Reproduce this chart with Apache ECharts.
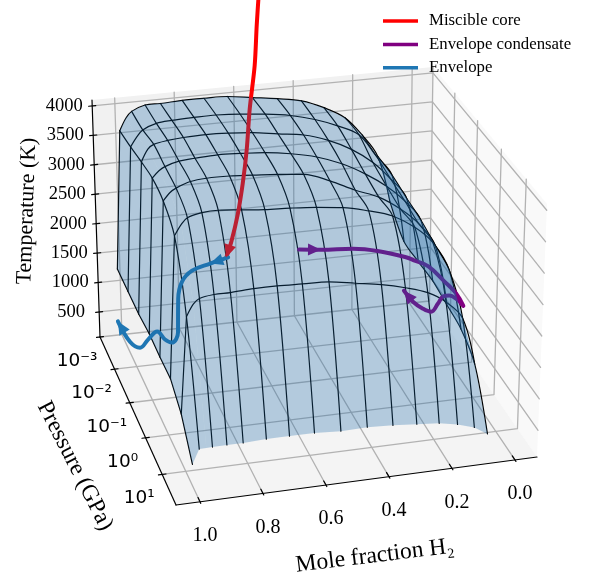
<!DOCTYPE html>
<html><head><meta charset="utf-8">
<style>html,body{margin:0;padding:0;background:#fff}#c{width:589px;height:577px}</style>
<script src="https://cdn.jsdelivr.net/npm/echarts@6/dist/echarts.min.js"></script>
</head><body><div id="c"></div>
<script>
// ---------- data ----------
const moleFraction = [1.0086,0.9862,0.9640,0.9444,0.8986,0.8470,0.7736,0.7003,0.6212,0.5375,0.4539,0.3725,0.2968,0.2258,0.1673,0.1135,0.0711];
const meshColumns  = [0,1,3,4,5,6,7,8,9,10,11,12,13,14,15,16];
const logPressure = [-3,-2.29,-1.6,-0.93,-0.28,0.35,0.96,1.56];
const temperature = [
 [1193,3532,3739,3842,3928,3928,3945,3945,3936,3876,3816,3739,3584,3377,3051,2655,1864],
 [1183,3604,3766,3869,3956,3979,3991,3995,3971,3925,3860,3751,3604,3417,3025,2667,1524],
 [1174,3692,3894,3962,4004,4026,4036,4021,3986,3921,3859,3725,3534,3276,2972,2620,1528],
 [1209,3760,3869,3927,3991,4011,4028,4010,3981,3916,3817,3660,3450,3201,2931,2581,1549],
 [1187,3717,3843,3903,3984,4009,4004,3976,3946,3896,3744,3544,3387,3146,2875,2495,1486],
 [1190,3480,3653,3748,3803,3812,3775,3737,3714,3678,3625,3523,3396,3171,2886,2409,1424],
 [972,2512,2699,2778,2813,2813,2830,2830,2813,2794,2722,2650,2553,2430,2243,1950,1183],
 [527,753,756,758,761,760,774,774,771,747,755,732,700,669,613,529,398]
];
const coreX = [0.6366,0.6443,0.652,0.669,0.680,0.694,0.7115,0.7324,0.7505];
const coreT = [6654,6105,5435,4732,4062,3509,3006,2588,2320];
const coreLogP = -0.93;
const envX = [0.667,0.728,0.790,0.825,0.839,0.841,0.842,0.864,0.887,0.913,0.945,0.973,1.007,1.046];
const envT = [1574,1504,1417,1248,967,626,406,246,310,460,341,220,339,702];
const envLogP = -2.29;
const condX = [0.553,0.482,0.379,0.295,0.207,0.181,0.135,0.081,0.041,0.017,0.041,0.064,0.084,0.100,0.122,0.149,0.182,0.212];
const condT = [2676,2631,2588,2499,2349,2283,2160,1878,1652,1436,1569,1635,1630,1524,1403,1469,1602,1801];
const condLogP = -0.28;
const xTicks = [1.0,0.8,0.6,0.4,0.2,0.0];
const xTickLabels = ['1.0','0.8','0.6','0.4','0.2','0.0'];
const pTicks = [-3,-2,-1,0,1];
const pTickLabels = ['10\u207B\u00B3','10\u207B\u00B2','10\u207B\u00B9','10\u2070','10\u00B9'];
const zTicks = [500,1000,1500,2000,2500,3000,3500,4000];
const legendNames = ['Miscible core','Envelope condensate','Envelope'];

// ---------- view of the 3D box (where its corners fall on the page) ----------
const xLim = [1.0762,-0.07], pLim = [-3,1.8], zLim = [75,4100];
const box = {
  backBot:{l:[100,337],r:[429.5,301]}, backTop:{l:[92,100],r:[433,67]},
  frontBot:{l:[176,505],r:[537,457]}, frontTop:{l:[170.5,249],r:[547,204]}
};
const lerp=(a,b,k)=>[a[0]+(b[0]-a[0])*k,a[1]+(b[1]-a[1])*k];
function project(x,lp,T){
  const t=(x-xLim[0])/(xLim[1]-xLim[0]);
  const q=(lp-pLim[0])/(pLim[1]-pLim[0]);
  const s=0.9*q/(1-0.1*q);
  const u=(T-zLim[0])/(zLim[1]-zLim[0]);
  const bot=lerp(lerp(box.backBot.l,box.backBot.r,t),lerp(box.frontBot.l,box.frontBot.r,t),s);
  const top=lerp(lerp(box.backTop.l,box.backTop.r,t),lerp(box.frontTop.l,box.frontTop.r,t),s);
  return lerp(bot,top,u);
}
const series=[];
function line(pts,color,width,z,opt){
  series.push(Object.assign({type:'line',data:pts.map(p=>project(p[0],p[1],p[2])),showSymbol:false,symbol:'none',silent:true,animation:false,
    itemStyle:{color:color},lineStyle:{color:color,width:width,cap:'round',join:'round'},z:z,clip:false},opt||{}));
}
function polys(list,z){
  series.push({type:'custom',coordinateSystem:'cartesian2d',silent:true,animation:false,clip:false,z:z,
    data:list.map((_,i)=>[i,0]),
    renderItem:(p,api)=>{const it=list[api.value(0)];
      return {type:'polygon',shape:{points:it.pts.map(q=>api.coord(project(q[0],q[1],q[2])))},style:{fill:it.fill}};}});
}
// panes
const [xa,xb]=xLim,[pa,pb]=pLim,[za,zb]=zLim;
polys([
 {pts:[[xa,pa,za],[xb,pa,za],[xb,pa,zb],[xa,pa,zb]],fill:'#f1f1f1'},
 {pts:[[xb,pa,za],[xb,pb,za],[xb,pb,zb],[xb,pa,zb]],fill:'#f9f9f9'},
 {pts:[[xa,pa,za],[xb,pa,za],[xb,pb,za],[xa,pb,za]],fill:'#f4f4f4'}
],1);
// grid lines
const G='#b2b2b2',GW=1.3;
xTicks.forEach(x=>{line([[x,pa,zb],[x,pa,za],[x,pb,za]],G,GW,2);});
pTicks.forEach(p=>{line([[xa,p,za],[xb,p,za],[xb,p,zb]],G,GW,2);});
zTicks.forEach(T=>{line([[xa,pa,T],[xb,pa,T],[xb,pb,T]],G,GW,2);});
// mesh lines (rows and columns of the surface)
const M='#000',MW=1.2;
temperature.forEach((r,i)=>{
  if(i===temperature.length-1) return;
  line([[moleFraction[0],logPressure[i],r[0]],[moleFraction[1],logPressure[i],r[1]]],M,MW,3);
  line(r.slice(1).map((T,j)=>[moleFraction[j+1],logPressure[i],T]),M,MW,3,{smooth:0.35});
});
meshColumns.forEach(j=>{
  line(temperature.map((r,i)=>[moleFraction[j],logPressure[i],r[j]]),M,MW,3,{smooth:j===0?0:0.3});
});
// tracks
const RED='#ff0000',PUR='#800080',BLU='#1f77b4';
const corePts=coreX.map((x,i)=>[x,coreLogP,coreT[i]]);
const envPts=envX.map((x,i)=>[x,envLogP,envT[i]]);
const condPts=condX.map((x,i)=>[x,condLogP,condT[i]]);
line(corePts,RED,4,4,{name:legendNames[0],smooth:0.3});
line(condPts,PUR,4,4,{name:legendNames[1],smooth:0.4});
line(envPts,BLU,4,4,{name:legendNames[2],smooth:0.4});
function arrow(pts,i,color){
  const head=13,half=6;
  series.push({type:'custom',coordinateSystem:'cartesian2d',silent:true,animation:false,clip:false,z:5,data:[[0,0]],
    renderItem:(p,api)=>{
      const a=api.coord(project(...pts[i-1])),b=api.coord(project(...pts[i]));
      const d=Math.hypot(b[0]-a[0],b[1]-a[1]),ux=(b[0]-a[0])/d,uy=(b[1]-a[1])/d;
      return {type:'polygon',shape:{points:[b,[b[0]-head*ux-half*uy,b[1]-head*uy+half*ux],[b[0]-head*ux+half*uy,b[1]-head*uy-half*ux]]},style:{fill:color}};
    }});
}
arrow(corePts,corePts.length-1,RED);
arrow(envPts,1,BLU);
arrow(envPts,envPts.length-1,BLU);
arrow(condPts,1,PUR);
arrow(condPts,condPts.length-1,PUR);
// surface
const cells=[];
for(let i=0;i<logPressure.length-1;i++)for(let j=0;j<moleFraction.length-1;j++){
  cells.push({fill:'rgba(31,105,170,0.3)',pts:[
    [moleFraction[j],logPressure[i],temperature[i][j]],
    [moleFraction[j+1],logPressure[i],temperature[i][j+1]],
    [moleFraction[j+1],logPressure[i+1],temperature[i+1][j+1]],
    [moleFraction[j],logPressure[i+1],temperature[i+1][j]]]});
}
polys(cells,6);
// axis lines and ticks
const K='#000';
line([[xa,pa,za],[xa,pa,zb]],K,1.2,7);
line([[xa,pa,za],[xa,pb,za]],K,1.2,7);
line([[xa,pb,za],[xb,pb,za]],K,1.2,7);
zTicks.forEach(T=>line([[xa+0.012,pa,T],[xa-0.012,pa,T]],K,1.2,7));
pTicks.forEach(p=>line([[xa+0.012,p,za],[xa-0.012,p,za]],K,1.2,7));
xTicks.forEach(x=>line([[x,1.69,za],[x,1.84,za]],K,1.2,7));
// texts
const SER='"Liberation Serif"',SAN='"DejaVu Sans"';
const texts=[];
xTicks.forEach((x,i)=>texts.push({t:xTickLabels[i],at:[x,pb,za],dx:5,dy:34,f:SER,s:20}));
pTicks.forEach((p,i)=>texts.push({t:pTickLabels[i],at:[xa,p,za],dx:-23,dy:24,f:SAN,s:18.5}));
zTicks.forEach(T=>texts.push({t:String(T),at:[xa,pa,T],dx:-28,dy:0,f:SER,s:18.5}));
texts.push({t:'Temperature (K)',pos:[27,211],rot:88,f:SER,s:22});
texts.push({t:'Pressure (GPa)',pos:[75,466],rot:-63,f:SER,s:23.5});
texts.push({t:'Mole fraction H\u2082',pos:[375,556],rot:7,f:SER,s:23.5});
series.push({type:'custom',coordinateSystem:'cartesian2d',silent:true,animation:false,clip:false,z:8,
  data:texts.map((_,i)=>[i,0]),
  renderItem:(p,api)=>{const o=texts[api.value(0)];
    let c;
    if(o.pos) c=api.coord(o.pos); else {const b=api.coord(project(...o.at)); c=[b[0]+o.dx,b[1]+o.dy];}
    return {type:'text',x:c[0],y:c[1],rotation:(o.rot||0)*Math.PI/180,
      style:{text:o.t,fontFamily:o.f,fontSize:o.s,fill:'#000',textAlign:'center',textVerticalAlign:'middle'}};
  }});
const chart=echarts.init(document.getElementById('c'),null,{renderer:'canvas',width:589,height:577});
chart.setOption({
  animation:false,backgroundColor:'#fff',
  grid:{left:0,right:0,top:0,bottom:0},
  xAxis:{type:'value',min:0,max:589,show:false},
  yAxis:{type:'value',min:0,max:577,inverse:true,show:false},
  legend:{data:legendNames,orient:'vertical',left:383,top:12.5,padding:0,icon:'rect',itemWidth:35,itemHeight:3.5,itemGap:6.4,z:9,selectedMode:false,
    textStyle:{fontFamily:SER,fontSize:16.8,color:'#000',padding:[0,0,0,6]}},
  series:series
});
</script></body></html>
